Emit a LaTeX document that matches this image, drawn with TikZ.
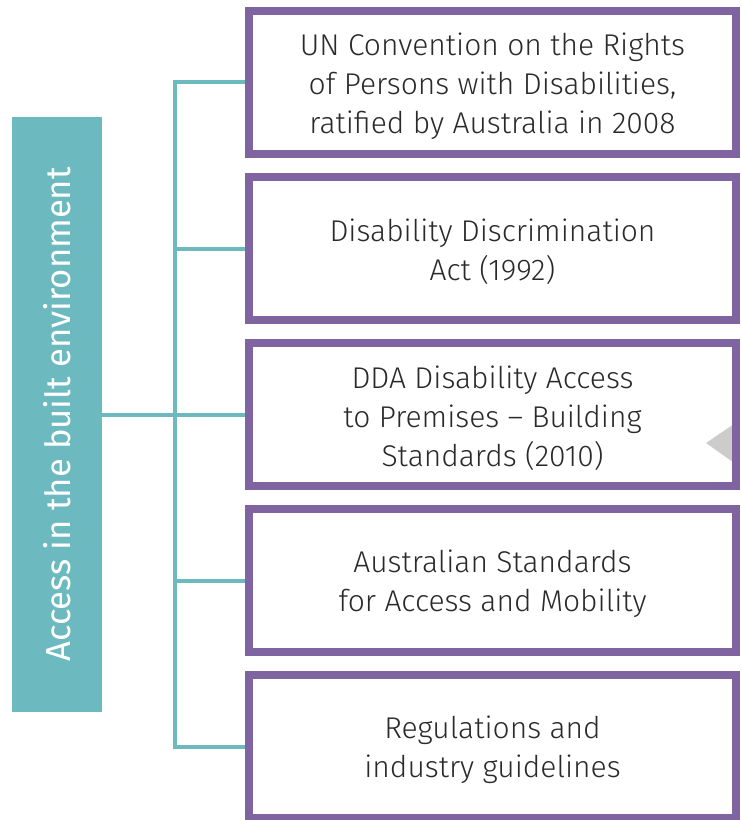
\documentclass[tikz,border=0pt]{standalone}
\usepackage{fontspec}
\setmainfont{Fira Sans Light}
\newfontfamily\headfont{Fira Sans}
\usetikzlibrary{backgrounds}

\definecolor{accteal}{HTML}{6CBAC0}
\definecolor{accpurple}{HTML}{8064A2}
\definecolor{acctext}{HTML}{2A2A2A}
\definecolor{accgray}{HTML}{CCCCCC}

\tikzset{
  lawbox/.style={draw=accpurple, line width=6pt, minimum width=365pt, minimum height=107pt},
  lawtext/.style={align=center, text=acctext, yshift=-2.6pt, font=\fontsize{22.5}{29.3}\selectfont},
  linkline/.style={draw=accteal, line width=3pt}
}

\begin{document}
\begin{tikzpicture}[x=0.75pt, y=-0.75pt]
                      \useasboundingbox (0,0) rectangle (740,820);
                      \node[fill=accteal, minimum width=67.5pt, minimum height=446pt] (access) at (57,414.5) {};
                      \node[rotate=90, text=white, font=\headfont\fontsize{26}{30}\selectfont] at (access.center) {Access in the built environment};
                      \node[lawbox, label={[lawtext]center:{UN Convention on the Rights\\of Persons with Disabilities,\\ratified by Australia in 2008}}] (un) at (492.5,82.5) {};
                      \node[lawbox, label={[lawtext]center:{Disability Discrimination\\Act (1992)}}] (dda) at (492.5,248.5) {};
                      \node[lawbox, label={[lawtext]center:{DDA Disability Access\\to Premises -- Building\\Standards (2010)}}] (premises) at (492.5,414.5) {};
                      \node[lawbox, label={[lawtext]center:{Australian Standards\\for Access and Mobility}}] (asm) at (492.5,580.5) {};
                      \node[lawbox, label={[lawtext]center:{Regulations and\\industry guidelines}}] (regs) at (492.5,746.5) {};
                      \coordinate (spine) at (175,0);
                      \begin{scope}[on background layer]
                        \draw[linkline] (un.west) -- (un.west -| spine) -- (regs.west -| spine) -- (regs.west);
                        \draw[linkline] (dda.west -| spine) -- (dda.west);
                        \draw[linkline] (asm.west -| spine) -- (asm.west);
                        \draw[linkline] (access.east) -- (premises.west);
                        \fill[accgray] (706,443) -- (premises.east |- 0,420) -- (premises.east |- 0,467) -- cycle;
                      \end{scope}
                  \end{tikzpicture}
\end{document}
